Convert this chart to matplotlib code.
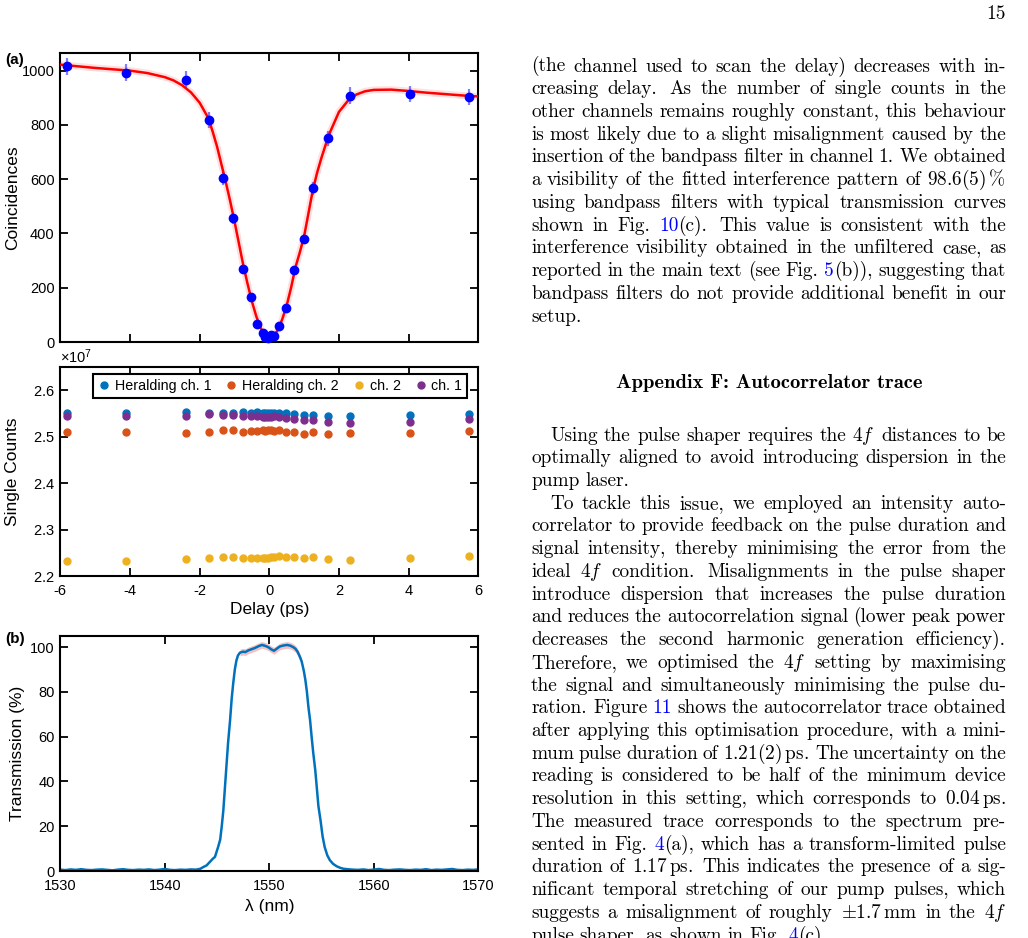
import numpy as np
import matplotlib
matplotlib.use("Agg")
import matplotlib.pyplot as plt

W, H = 1028, 938

plt.rcParams['font.family'] = ['Liberation Sans', 'DejaVu Sans']
plt.rcParams['axes.unicode_minus'] = False
plt.rcParams['mathtext.fontset'] = 'custom'
plt.rcParams['mathtext.rm'] = 'Liberation Sans'
plt.rcParams['mathtext.it'] = 'Liberation Sans:italic'

# ---- panel (a) top: HOM dip, coincidences vs delay
delay_ps = [-5.82, -4.12, -2.39, -1.74, -1.32, -1.05, -0.76, -0.53, -0.34, -0.19, -0.11, -0.03,
            0.06, 0.14, 0.28, 0.47, 0.70, 0.99, 1.25, 1.68, 2.33, 4.05, 5.74]
coincidences = [1016, 993, 966, 819, 604, 456, 269, 165, 68, 35, 18, 15,
                24, 21, 60, 124, 265, 380, 566, 751, 908, 913, 904]
coinc_err = [32, 32, 31, 29, 25, 21, 16, 13, 8, 6, 4, 4,
             5, 5, 8, 11, 16, 19, 24, 27, 30, 30, 30]

fit_delay = [-6.0, -5.5, -5.0, -4.5, -4.0, -3.5, -3.0, -2.75, -2.5, -2.25, -2.0, -1.75, -1.625,
             -1.5, -1.375, -1.25, -1.125, -1.0, -0.875, -0.75, -0.625, -0.5, -0.375, -0.25,
             -0.125, 0.0, 0.125, 0.25, 0.375, 0.5, 0.625, 0.75, 0.875, 1.0, 1.125, 1.25, 1.375,
             1.5, 1.625, 1.75, 2.0, 2.25, 2.5, 2.75, 3.0, 3.5, 4.0, 4.5, 5.0, 5.5, 6.0]
fit_coinc = [1022, 1016, 1010, 1005, 1000, 991, 976, 964, 946, 920, 882, 825, 775,
             720, 655, 590, 520, 445, 365, 285, 215, 150, 95, 52,
             25, 15, 22, 45, 85, 135, 200, 275, 330, 390, 475, 560, 625,
             680, 730, 775, 848, 888, 912, 924, 929, 930, 925, 919, 914, 909, 905]

# ---- panel (a) bottom: single counts (units of 1e7)
herald_ch1 = [2.550, 2.550, 2.5525, 2.551, 2.551, 2.551, 2.5525, 2.552, 2.5525, 2.551, 2.551, 2.551,
              2.552, 2.551, 2.550, 2.550, 2.548, 2.547, 2.547, 2.545, 2.544, 2.546, 2.548]
herald_ch2 = [2.511, 2.510, 2.507, 2.511, 2.5135, 2.5135, 2.510, 2.512, 2.513, 2.514, 2.513, 2.514,
              2.514, 2.513, 2.514, 2.509, 2.509, 2.506, 2.509, 2.505, 2.508, 2.508, 2.513]
singles_ch2 = [2.233, 2.233, 2.236, 2.238, 2.240, 2.240, 2.238, 2.238, 2.239, 2.239, 2.239, 2.239,
               2.240, 2.241, 2.242, 2.241, 2.241, 2.238, 2.241, 2.236, 2.235, 2.238, 2.2425]
singles_ch1 = [2.544, 2.544, 2.545, 2.548, 2.547, 2.547, 2.544, 2.544, 2.545, 2.543, 2.543, 2.543,
               2.543, 2.544, 2.543, 2.540, 2.538, 2.535, 2.536, 2.532, 2.530, 2.532, 2.537]
singles_labels = ['Heralding ch. 1', 'Heralding ch. 2', 'ch. 2', 'ch. 1']

# ---- panel (b): bandpass filter transmission
left_wl = list(np.arange(1530.0, 1543.01, 0.5))
left_t = [0.6, 0.4, 0.7, 0.5, 0.8, 0.5, 0.4, 0.6, 0.7, 0.5, 0.3, 0.6, 0.8, 0.5,
          0.4, 0.6, 0.5, 0.7, 0.4, 0.6, 0.9, 0.5, 0.4, 0.6, 0.5, 0.7, 0.6]
band_wl = [1543.4, 1543.7, 1544.0, 1544.3, 1544.6, 1544.8, 1545.1, 1545.3, 1545.45, 1545.6, 1545.75,
           1545.9, 1546.05, 1546.24, 1546.4, 1546.55, 1546.7, 1546.85, 1547.0, 1547.2, 1547.5,
           1547.7, 1548.0, 1548.3, 1548.6, 1549.0, 1549.3, 1549.6, 1549.9, 1550.2, 1550.45,
           1550.7, 1551.0, 1551.3, 1551.7, 1552.0, 1552.3, 1552.5, 1552.7, 1552.9, 1553.1,
           1553.3, 1553.45, 1553.6, 1553.75, 1553.9, 1554.05, 1554.2, 1554.4, 1554.55, 1554.7,
           1554.9, 1555.1, 1555.3, 1555.55, 1555.8, 1556.1, 1556.45, 1556.8, 1557.1]
band_t = [1.0, 1.8, 2.5, 4.0, 5.5, 6.3, 10.7, 14.0, 20.0, 27.0, 37.0,
          47.0, 57.0, 67.0, 77.0, 84.0, 90.0, 94.0, 96.3, 97.6, 98.0,
          97.8, 98.6, 99.1, 99.6, 100.5, 101.0, 100.6, 100.0, 99.0, 98.4,
          99.3, 100.3, 100.7, 101.0, 100.7, 100.0, 99.3, 98.0, 96.0, 93.6,
          89.5, 85.4, 80.0, 73.0, 67.5, 60.0, 53.0, 45.0, 37.0, 29.0,
          22.7, 15.5, 10.7, 7.0, 4.8, 3.2, 2.1, 1.4, 1.0]
right_wl = list(np.arange(1557.5, 1570.01, 0.5))
right_t = [0.8, 0.6, 0.5, 0.7, 0.4, 0.6, 0.9, 0.5, 0.4, 0.6, 0.7, 0.5, 0.4,
           0.6, 0.5, 0.8, 0.4, 0.6, 0.5, 0.7, 0.9, 0.5, 0.4, 0.6, 0.5, 0.7]
wavelength = np.array(left_wl + band_wl + right_wl)
transmission = np.array(left_t + band_t + right_t)
trans_spread = 1.5  # pink band half-width at the top of the passband

# ---- colours (MATLAB defaults)
c_blue = '#0072BD'
c_orange = '#D95319'
c_yellow = '#EDB120'
c_purple = '#7E2F8E'


def px_rect(l, t, r, b):
    return [l / W, 1 - b / H, (r - l) / W, (b - t) / H]


def style_axes(ax):
    for s in ax.spines.values():
        s.set_linewidth(1.5)
    ax.tick_params(direction='in', top=True, right=True, length=6, width=1.3,
                   labelsize=10.5, pad=4)
    ax.tick_params(axis='x', pad=6)


fig = plt.figure(figsize=(W / 100, H / 100), dpi=100)

# ---------------- coincidences
ax1 = fig.add_axes(px_rect(60.3, 53, 478.3, 342))
ax1.errorbar(delay_ps, coincidences, yerr=coinc_err, fmt='none', ecolor='#6a6aff',
             elinewidth=1.6, alpha=0.85, zorder=2)
ax1.plot(fit_delay, fit_coinc, color='red', lw=5, alpha=0.12, zorder=3)
ax1.plot(fit_delay, fit_coinc, color='red', lw=1.8, zorder=3)
ax1.plot(delay_ps, coincidences, 'o', color='#0000ff', ms=6, zorder=4, clip_on=False)
ax1.set_xlim(-6, 6)
ax1.set_ylim(0, 1065)
ax1.set_xticks(np.arange(-6, 7, 2))
ax1.set_xticklabels([])
ax1.set_yticks(np.arange(0, 1001, 200))
ax1.set_ylabel('Coincidences', fontsize=12.5)
ax1.yaxis.set_label_coords((20 - 60.3) / 418, 0.5)
style_axes(ax1)

# ---------------- single counts
ax2 = fig.add_axes(px_rect(60.3, 367, 478.3, 576))
for vals, col, lab in zip([herald_ch1, herald_ch2, singles_ch2, singles_ch1],
                          [c_blue, c_orange, c_yellow, c_purple], singles_labels):
    ax2.plot(delay_ps, np.array(vals) * 1e7, 'o', color=col, ms=5, label=lab)
ax2.set_xlim(-6, 6)
ax2.set_ylim(2.2e7, 2.65e7)
ax2.set_xticks(np.arange(-6, 7, 2))
ax2.set_yticks(np.arange(2.2e7, 2.61e7, 0.1e7))
ax2.ticklabel_format(axis='y', style='sci', scilimits=(7, 7), useOffset=False, useMathText=True)
ax2.set_ylabel('Single Counts', fontsize=12.5)
ax2.yaxis.set_label_coords((20 - 60.3) / 418, 0.5)
ax2.set_xlabel('Delay (ps)', fontsize=12.5)
ax2.xaxis.set_label_coords(0.5, -(602 - 576) / 209)
style_axes(ax2)
ax2.yaxis.get_offset_text().set_fontsize(10.5)
leg = ax2.legend(ncol=4, loc='upper right', bbox_to_anchor=(467.3 / W, 1 - 374.3 / H),
                 bbox_transform=fig.transFigure, fontsize=10.3, frameon=True, fancybox=False,
                 edgecolor='black', handlelength=0.8, handletextpad=0.35, columnspacing=1.0,
                 borderpad=0.35, borderaxespad=0, framealpha=1)
leg.get_frame().set_linewidth(1.5)

# ---------------- transmission
ax3 = fig.add_axes(px_rect(60.3, 636, 478.3, 871))
top = (wavelength >= 1547.2) & (wavelength <= 1553.1)
ax3.fill_between(wavelength[top], transmission[top] - trans_spread,
                 transmission[top] + trans_spread, color='#f4a6a6', alpha=0.7, lw=0)
ax3.plot(wavelength, transmission, color=c_blue, lw=1.8)
ax3.set_xlim(1530, 1570)
ax3.set_ylim(0, 105)
ax3.set_xticks(np.arange(1530, 1571, 10))
ax3.set_yticks(np.arange(0, 101, 20))
ax3.set_ylabel('Transmission (%)', fontsize=12.5)
ax3.yaxis.set_label_coords((25 - 60.3) / 418, 0.5)
ax3.set_xlabel('λ (nm)', fontsize=12.5)
ax3.xaxis.set_label_coords(0.5, -(899 - 871) / 235)
style_axes(ax3)

fig.text(5 / W, 1 - 60 / H, '(a)', fontsize=11, fontweight='bold', va='center', ha='left')
fig.text(5 / W, 1 - 639 / H, '(b)', fontsize=11, fontweight='bold', va='center', ha='left')

# ---------------- page text on the right (|..| marks blue cross-references)
BODY = 13.9
X0, X1 = 531.0, 1006.0
INDENT = 19.0
LINE = 22.73

block1 = [
    "(the channel used to scan the delay) decreases with in-",
    "creasing delay. As the number of single counts in the",
    "other channels remains roughly constant, this behaviour",
    "is most likely due to a slight misalignment caused by the",
    "insertion of the bandpass filter in channel 1. We obtained",
    "a visibility of the fitted interference pattern of $98.6(5)\\,\\%$",
    "using bandpass filters with typical transmission curves",
    "shown in Fig. |10|(c). This value is consistent with the",
    "interference visibility obtained in the unfiltered case, as",
    "reported in the main text (see Fig. |5|(b)), suggesting that",
    "bandpass filters do not provide additional benefit in our",
    "setup.",
]
para2 = [
    "Using the pulse shaper requires the $4f$ distances to be",
    "optimally aligned to avoid introducing dispersion in the",
    "pump laser.",
]
para3 = [
    "To tackle this issue, we employed an intensity auto-",
    "correlator to provide feedback on the pulse duration and",
    "signal intensity, thereby minimising the error from the",
    "ideal $4f$ condition. Misalignments in the pulse shaper",
    "introduce dispersion that increases the pulse duration",
    "and reduces the autocorrelation signal (lower peak power",
    "decreases the second harmonic generation efficiency).",
    "Therefore, we optimised the $4f$ setting by maximising",
    "the signal and simultaneously minimising the pulse du-",
    "ration. Figure |11| shows the autocorrelator trace obtained",
    "after applying this optimisation procedure, with a mini-",
    "mum pulse duration of $1.21(2)\\,\\mathrm{ps}$. The uncertainty on the",
    "reading is considered to be half of the minimum device",
    "resolution in this setting, which corresponds to $0.04\\,\\mathrm{ps}$.",
    "The measured trace corresponds to the spectrum pre-",
    "sented in Fig. |4|(a), which has a transform-limited pulse",
    "duration of $1.17\\,\\mathrm{ps}$. This indicates the presence of a sig-",
    "nificant temporal stretching of our pump pulses, which",
    "suggests a misalignment of roughly $\\pm1.7\\,\\mathrm{mm}$ in the $4f$",
    "pulse shaper, as shown in Fig. |4|(c).",
]

renderer = fig.canvas.get_renderer()


def split_word(word):
    parts = word.split('|')
    segs = []
    for k, p in enumerate(parts):
        if p:
            segs.append((p, 'blue' if k % 2 == 1 else 'black'))
    return segs


def place_line(line, y_center, indent=0.0, justify=True):
    words = line.split(' ')
    placed = []
    widths = []
    for w in words:
        segs = []
        total = 0.0
        for s, col in split_word(w):
            t = fig.text(0, 0, s, fontsize=BODY, family='cmr10', color=col,
                         va='baseline', ha='left', math_fontfamily='cm')
            sw = t.get_window_extent(renderer).width
            segs.append((t, sw))
            total += sw
        placed.append(segs)
        widths.append(total)
    weights = []
    for w in words[:-1]:
        sentence_end = w.endswith('.') and not w.endswith('Fig.')
        weights.append(1.35 if sentence_end else 1.0)
    start = X0 + indent
    if justify and len(words) > 1:
        unit = (X1 - start - sum(widths)) / sum(weights)
    else:
        unit = 6.0
    x = start
    base = y_center + 5.5
    for i, segs in enumerate(placed):
        for t, sw in segs:
            t.set_position((x / W, 1 - base / H))
            x += sw
        if i < len(weights):
            x += unit * weights[i]


for i, ln in enumerate(block1):
    place_line(ln, 66 + LINE * i, justify=(i < len(block1) - 1))

fig.text(769 / W, 1 - 387.5 / H, 'Appendix F: Autocorrelator trace', fontsize=14.8,
         family='cmb10', ha='center', va='baseline')

y = 435.0
for i, ln in enumerate(para2):
    place_line(ln, y, indent=INDENT if i == 0 else 0.0, justify=(i < len(para2) - 1))
    y += LINE
for i, ln in enumerate(para3):
    place_line(ln, y, indent=INDENT if i == 0 else 0.0, justify=(i < len(para3) - 1))
    y += LINE

fig.text(1006 / W, 1 - 19 / H, '15', fontsize=BODY, family='cmr10', ha='right', va='baseline')

fig.savefig('out.png', dpi=100)
